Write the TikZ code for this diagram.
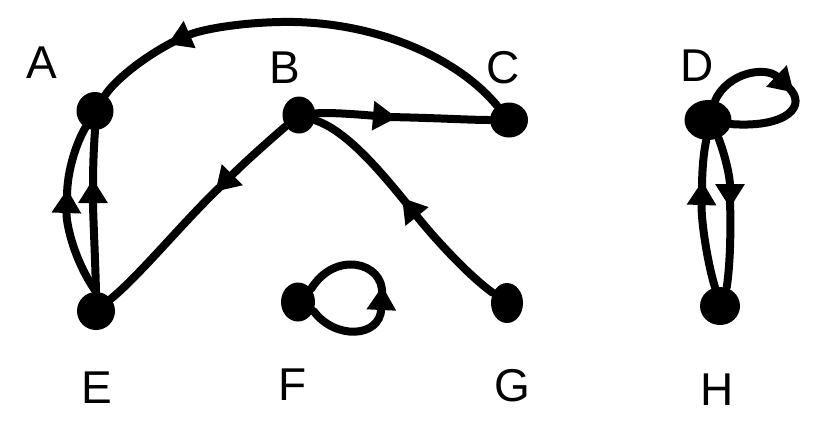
\documentclass[tikz,border=0pt]{standalone}
\usepackage{fontspec}
\setmainfont{Liberation Sans}
\usetikzlibrary{shapes.geometric,arrows.meta}
\begin{document}
\begin{tikzpicture}[x=0.5pt,y=-0.5pt,
  vtx/.style={ellipse,fill=black,inner sep=0pt},
  lbl/.style={font=\fontsize{23}{25}\selectfont},
  edge/.style={line width=4pt,line cap=round},
  arrowend/.style={-{Triangle[length=12pt,width=14pt]},shorten >=-4pt}]
\useasboundingbox (0,0) rectangle (823,436);
% vertices
\node[vtx,minimum width=18.5pt,minimum height=19pt] (A) at (95,111) {};
\node[vtx,minimum width=16.5pt,minimum height=18.5pt] (B) at (299,115) {};
\node[vtx,minimum width=19pt,minimum height=17.5pt] (C) at (509,120) {};
\node[vtx,minimum width=23.5pt,minimum height=20pt] (D) at (708,120) {};
\node[vtx,minimum width=19pt,minimum height=19pt] (E) at (96,311) {};
\node[vtx,minimum width=17pt,minimum height=19.5pt] (F) at (298,302) {};
\node[vtx,minimum width=16pt,minimum height=20pt] (G) at (507,303) {};
\node[vtx,minimum width=20pt,minimum height=19pt] (H) at (720,306) {};
% labels
\node[lbl] (lA) at (42,63) {A};
\node[lbl] (lB) at (285,68) {B};
\node[lbl] (lC) at (503,68) {C};
\node[lbl] (lD) at (697,66) {D};
\node[lbl] (lE) at (97,388) {E};
\node[lbl] (lF) at (293,385) {F};
\node[lbl] (lG) at (512,386) {G};
\node[lbl] (lH) at (717,390) {H};
% arrow points on the connectors
\coordinate (ca) at (175,41);
\coordinate (bc) at (389,117);
\coordinate (be) at (221,186);
\coordinate (gb) at (407,204);
\coordinate (ea1) at (67,197);
\coordinate (ea2) at (93,187);
\coordinate (hd) at (702,189);
\coordinate (dh) at (730,200);
\coordinate (dd) at (788,87);
\coordinate (ff) at (382,294);
% C -> A
\draw[edge,arrowend] (C) .. controls (455,55) and (370,20) .. (280,22) .. controls (235,23) and (200,30) .. (ca);
\draw[edge] (ca) .. controls (145,56) and (115,80) .. (A);
% B -> C
\draw[edge,arrowend] (B) .. controls (330,112) and (365,115) .. (bc);
\draw[edge] (bc) .. controls (440,118) and (470,120) .. (C);
% B -> E
\draw[edge,arrowend] (B) .. controls (272,138) and (245,162) .. (be);
\draw[edge] (be) .. controls (185,220) and (140,275) .. (E);
% G -> B
\draw[edge,arrowend] (G) .. controls (472,278) and (440,245) .. (gb);
\draw[edge] (gb) .. controls (378,168) and (345,130) .. (B);
% E -> A (two edges)
\draw[edge,arrowend] (E.north) .. controls (75,262) and (66,225) .. (ea1);
\draw[edge] (ea1) .. controls (67,168) and (78,140) .. (A.240);
\draw[edge,arrowend] (E.north) .. controls (95,252) and (93,215) .. (ea2);
\draw[edge] (ea2) .. controls (93,162) and (94,145) .. (A.south);
% H -> D and D -> H
\draw[edge,arrowend] (H.105) .. controls (708,265) and (701,222) .. (hd);
\draw[edge] (hd) .. controls (702,168) and (704,150) .. (D.265);
\draw[edge,arrowend] (D.300) .. controls (726,158) and (730,178) .. (dh);
\draw[edge] (dh) .. controls (731,235) and (730,265) .. (H.70);
% D -> D
\draw[edge,arrowend] (D.70) .. controls (728,72) and (766,66) .. (dd);
\draw[edge] (dd) .. controls (808,105) and (788,128) .. (D.350);
% F -> F
\draw[edge,arrowend] (F.-30) .. controls (335,340) and (380,338) .. (ff);
\draw[edge] (ff) .. controls (384,262) and (335,250) .. (F.45);
\end{tikzpicture}
\end{document}
